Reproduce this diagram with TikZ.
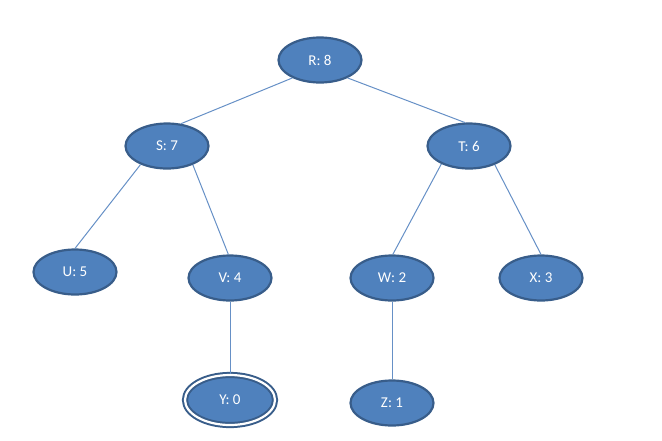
\documentclass[tikz,border=0pt]{standalone}
\usepackage{fontspec}
\setmainfont{Carlito}
\usetikzlibrary{shapes.geometric}
\definecolor{nodefill}{HTML}{4F81BD}
\definecolor{nodeline}{HTML}{385D8A}
\definecolor{edgecol}{HTML}{6690C6}
\begin{document}
\begin{tikzpicture}[x=1pt,y=-1pt,
  tn/.style={ellipse, fill=nodefill, draw=nodeline, line width=2.2pt,
    minimum width=83pt, minimum height=45pt, inner sep=0pt,
    text=white, font=\fontsize{15}{17}\selectfont},
  goal/.style={tn, double=white, double distance=2.2pt, line width=2pt,
    minimum width=90pt, minimum height=50pt},
  edge/.style={draw=edgecol, line width=1pt}]
\useasboundingbox (0,0) rectangle (662,440);
\node[tn] (R) at (320,60) {R: 8};
\node[tn] (S) at (167,146) {S: 7};
\node[tn] (T) at (469,146) {T: 6};
\node[tn] (U) at (75,272) {U: 5};
\node[tn] (V) at (230,278) {V: 4};
\node[tn] (W) at (392,278) {W: 2};
\node[tn] (X) at (541,278) {X: 3};
\node[goal] (Y) at (230,400) {Y: 0};
\node[tn] (Z) at (392,403) {Z: 1};
\draw[edge] (R.213) -- (S.58);
\draw[edge] (R.327) -- (T.100);
\draw[edge] (S.215) -- (U.90);
\draw[edge] (S.324) -- (V.94);
\draw[edge] (T.213) -- (W.88);
\draw[edge] (T.324) -- (X.90);
\draw[edge] (V.south) -- (Y.north);
\draw[edge] (W.south) -- (Z.north);
\end{tikzpicture}
\end{document}
